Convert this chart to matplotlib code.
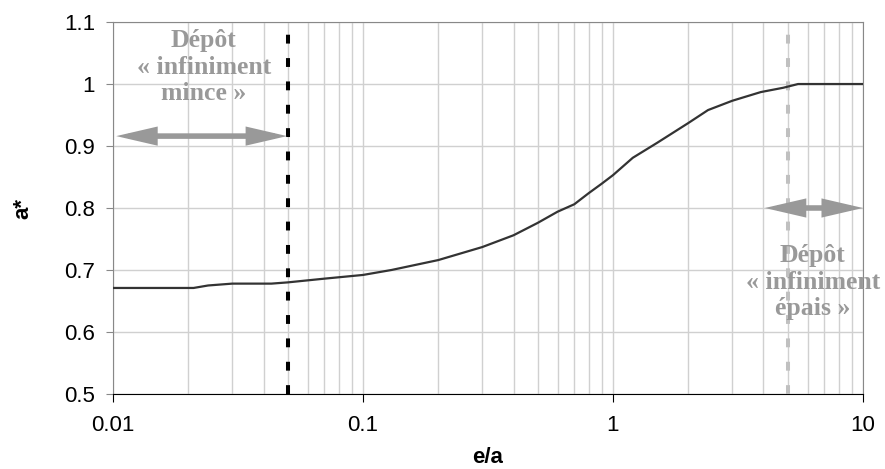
import matplotlib
matplotlib.use("Agg")
import matplotlib.pyplot as plt
from matplotlib.ticker import FixedLocator, LogLocator, NullFormatter

# courbe a* en fonction de e/a
e_a = [0.01, 0.021, 0.024, 0.03, 0.043, 0.05, 0.07, 0.1, 0.13, 0.2, 0.3, 0.4,
       0.5, 0.6, 0.7, 0.8, 0.9, 1.0, 1.2, 1.5, 2.0, 2.4, 3.0, 3.9, 4.8, 5.5, 10]
a_star = [0.671, 0.671, 0.675, 0.678, 0.678, 0.680, 0.686, 0.692, 0.700, 0.716,
          0.737, 0.756, 0.776, 0.794, 0.806, 0.824, 0.839, 0.853, 0.881, 0.905,
          0.937, 0.958, 0.973, 0.987, 0.994, 1.0, 1.0]

x_mince = 0.05
x_epais = 5
arrow_mince = [0.0103, 0.0497]
arrow_epais = [4.05, 10]
y_arrow_mince = 0.916
y_arrow_epais = 0.8

x_ticks = [0.01, 0.1, 1, 10]
x_ticklabels = ["0.01", "0.1", "1", "10"]
y_ticks = [0.5, 0.6, 0.7, 0.8, 0.9, 1.0, 1.1]
y_ticklabels = ["0.5", "0.6", "0.7", "0.8", "0.9", "1", "1.1"]

plt.rcParams['font.family'] = ['Liberation Sans', 'DejaVu Sans']

fig = plt.figure(figsize=(8.85, 4.69), dpi=100)
ax = fig.add_axes([0.1277, 0.16, 0.8474, 0.793])

ax.set_xscale('log')
ax.set_xlim(0.01, 10)
ax.set_ylim(0.5, 1.1)

ax.xaxis.set_major_locator(FixedLocator(x_ticks))
ax.set_xticklabels(x_ticklabels)
ax.xaxis.set_minor_locator(LogLocator(base=10, subs=range(2, 10)))
ax.xaxis.set_minor_formatter(NullFormatter())
ax.set_yticks(y_ticks)
ax.set_yticklabels(y_ticklabels)

ax.grid(True, which='major', color='#d0d0d0', lw=1.0)
ax.grid(True, which='minor', axis='x', color='#d0d0d0', lw=1.0)
ax.set_axisbelow(True)

for s in ['left', 'top', 'right']:
    ax.spines[s].set_color('#888888')
ax.spines['bottom'].set_color('black')
ax.tick_params(axis='x', which='major', direction='out', length=6, color='black',
               labelsize=16, pad=9)
ax.tick_params(axis='x', which='minor', length=0)
ax.tick_params(axis='y', direction='out', length=5, color='#888888',
               labelsize=16, pad=8)

ax.plot(e_a, a_star, color='#333333', lw=1.6, zorder=4)

ax.axvline(x_mince, color='black', lw=2.9, ls=(0, (2.2, 3.6)),
           dash_capstyle='butt', zorder=3)
ax.axvline(x_epais, color='#c0c0c0', lw=2.9, ls=(0, (2.2, 3.6)),
           dash_capstyle='butt', zorder=3)

arrow_props = dict(arrowstyle='<|-|>,head_length=0.95,head_width=0.22',
                   lw=4.0, color='#999999', shrinkA=0, shrinkB=0,
                   mutation_scale=20, joinstyle='miter', capstyle='butt')
ax.annotate('', xy=(arrow_mince[0], y_arrow_mince),
            xytext=(arrow_mince[1], y_arrow_mince), arrowprops=arrow_props)
ax.annotate('', xy=(arrow_epais[0], y_arrow_epais),
            xytext=(arrow_epais[1], y_arrow_epais), arrowprops=arrow_props,
            annotation_clip=False)

ax.text(0.0231, 1.027, "Dépôt\n« infiniment\nmince »", ha='center', va='center',
        family=['Liberation Serif', 'DejaVu Serif'], weight='bold', size=18.5,
        color='#999999', linespacing=1.2, zorder=5)
ax.text(6.3, 0.68, "Dépôt\n« infiniment\népais »", ha='center', va='center',
        family=['Liberation Serif', 'DejaVu Serif'], weight='bold', size=18.5,
        color='#999999', linespacing=1.2, zorder=5)

ax.set_xlabel("e/a", fontsize=16, weight='bold', labelpad=8)
ax.set_ylabel("a*", fontsize=16, weight='bold', labelpad=22)

fig.savefig("out.png", dpi=100)
